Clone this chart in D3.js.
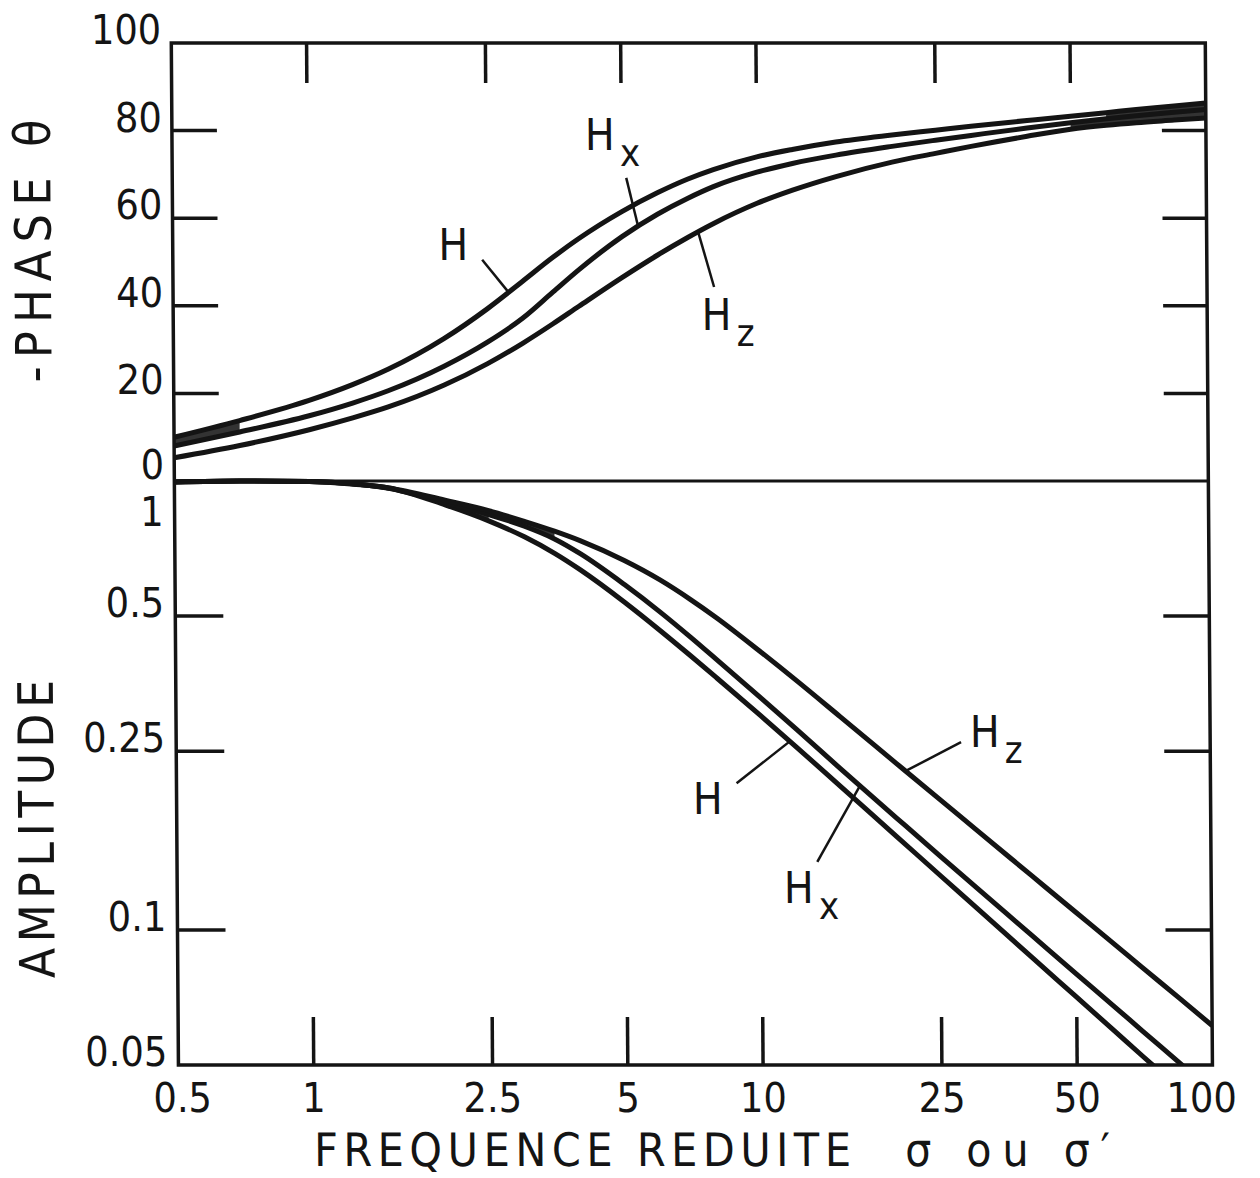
<!DOCTYPE html>
<html>
<head>
<meta charset="utf-8">
<script src="https://d3js.org/d3.v7.min.js"></script>
<style>
  body { margin: 0; background: #fff; }
  svg { display: block; }
  text { font-family: "DejaVu Sans Condensed", "DejaVu Sans", sans-serif; font-stretch: condensed; fill: #141414; }
</style>
</head>
<body>
<svg id="frame"></svg>

<script>
  // reduced frequency, shared by all the curves
  var sigma = [0.5, 0.7, 1, 1.25, 1.5, 2, 2.5, 3, 3.5, 4, 5, 6, 7, 8, 10, 12, 15, 20, 25, 30, 40, 50, 60, 70, 85, 100];

  // -phase (degrees)
  var phaseH  = [10.0, 13.8, 18.4, 22.0, 25.5, 32.5, 39.3, 45.6, 51.0, 55.3, 61.5, 65.8, 68.9, 71.1, 74.0, 75.7, 77.4, 79.0, 80.1, 81.0, 82.3, 83.3, 84.1, 84.8, 85.6, 86.3];
  var phaseHx = [8.0, 11.2, 14.9, 17.8, 20.6, 26.2, 31.7, 37.2, 43.1, 48.2, 55.8, 60.9, 64.5, 67.2, 70.5, 72.5, 74.4, 76.4, 77.8, 78.9, 80.6, 81.8, 82.7, 83.4, 84.2, 84.8];
  var phaseHz = [5.3, 8.1, 11.7, 14.4, 16.9, 21.9, 26.8, 31.5, 35.9, 39.9, 46.5, 51.6, 55.6, 58.8, 63.4, 66.4, 69.5, 72.8, 74.8, 76.4, 78.7, 80.3, 81.2, 81.8, 82.4, 82.9];

  // amplitude (last values of H and Hx lie just under the frame and are clipped)
  var ampH  = [0.995, 1.0, 0.998, 0.984, 0.965, 0.885, 0.815, 0.751, 0.690, 0.633, 0.537, 0.464, 0.408, 0.364, 0.300, 0.2555, 0.209, 0.1614, 0.132, 0.1121, 0.0865, 0.0708, 0.0601, 0.0523, 0.044, null];
  var ampHx = [0.995, 1.0, 0.998, 0.9865, 0.963, 0.896, 0.842, 0.793, 0.743, 0.688, 0.588, 0.5105, 0.449, 0.400, 0.329, 0.280, 0.229, 0.1775, 0.1458, 0.1244, 0.0968, 0.0797, 0.0681, 0.0595, 0.0503, 0.0436];
  var ampHz = [0.995, 1.0, 0.998, 0.9865, 0.965, 0.906, 0.859, 0.813, 0.773, 0.7355, 0.665, 0.602, 0.545, 0.496, 0.417, 0.360, 0.299, 0.235, 0.195, 0.1675, 0.1317, 0.1093, 0.0939, 0.0825, 0.0702, 0.0612];

  var xTicks = [1, 2.5, 5, 10, 25, 50];
  var xLabels = [0.5, 1, 2.5, 5, 10, 25, 50, 100];
  var phaseTicks = [20, 40, 60, 80];
  var phaseLabels = [0, 20, 40, 60, 80, 100];
  var ampTicks = [0.5, 0.25, 0.1];
  var ampLabels = [1, 0.5, 0.25, 0.1, 0.05];

  // places where the ink of two curves runs together: [upper, lower, from sigma, to sigma]
  var phaseInk = [[phaseH, phaseHx, 0.5, 0.7], [phaseHx, phaseHz, 50, 100], [phaseH, phaseHx, 60, 100]];
  var ampInk = [[ampHx, ampH, 1, 2.5], [ampHz, ampHx, 1, 3.5]];

  // curve names with their leader lines, in data units
  var phaseNotes = [
    {name: 'H', sub: '',  text: [1.95, 50.5],  from: [2.44, 50.5], to: [2.78, 43.3]},
    {name: 'H', sub: 'x', text: [4.15, 75.6],  from: [5.12, 69.2], to: [5.43, 58.2]},
    {name: 'H', sub: 'z', text: [7.5, 34.5],   from: [8.0, 44.3],  to: [7.38, 57.0]}
  ];
  var ampNotes = [
    {name: 'H', sub: 'z', text: [29.2, 0.2557], from: [27.9, 0.262],  to: [20.9, 0.2254]},
    {name: 'H', sub: '',  text: [7.05, 0.1813], from: [8.82, 0.2122], to: [11.6, 0.263]},
    {name: 'H', sub: 'x', text: [11.2, 0.1148], from: [13.3, 0.1417], to: [16.6, 0.2096]}
  ];

  var width = 1260, height = 1178;
  var svg = d3.select('#frame').attr('width', width).attr('height', height);
  svg.append('rect').attr('width', width).attr('height', height).attr('fill', '#fff');

  var x = d3.scaleLog().domain([0.5, 100]).range([171, 1205]);
  var yPhase = d3.scaleLinear().domain([0, 100]).range([481, 43]);
  var yAmp = d3.scaleLog().domain([0.05, 1]).range([1065, 481]);

  // the amplitude curves stop at the bottom of the frame
  svg.append('defs').append('clipPath').attr('id', 'ampClip')
    .append('rect')
    .attr('x', x(0.5)).attr('y', yAmp(1) - 10)
    .attr('width', x(100) - x(0.5))
    .attr('height', yAmp(0.05) - yAmp(1) + 10);

  // the scan is slightly sheared, so the whole drawing leans a little
  var g = svg.append('g').attr('transform', 'skewX(0.4)');

  var ink = '#141414';

  //dark fills where curves touch
  function drawInk(list, y, layer) {
    list.forEach(function(f) {
      var pts = [];
      sigma.forEach(function(s, i) {
        if (s >= f[2] && s <= f[3] && f[0][i] != null && f[1][i] != null) pts.push([s, f[0][i], f[1][i]]);
      });
      var area = d3.area()
        .x(function(d) { return x(d[0]); })
        .y0(function(d) { return y(d[1]); })
        .y1(function(d) { return y(d[2]); })
        .curve(d3.curveMonotoneX);
      layer.append('path').attr('d', area(pts)).attr('fill', '#333');
    });
  }

  function drawCurves(list, y, layer) {
    var line = d3.line()
      .defined(function(d) { return d[1] != null; })
      .x(function(d) { return x(d[0]); })
      .y(function(d) { return y(d[1]); })
      .curve(d3.curveMonotoneX);
    list.forEach(function(vals) {
      var pts = sigma.map(function(s, i) { return [s, vals[i]]; });
      layer.append('path')
        .attr('d', line(pts))
        .attr('fill', 'none')
        .attr('stroke', ink)
        .attr('stroke-width', 5);
    });
  }

  function drawNotes(list, y) {
    list.forEach(function(n) {
      g.append('line')
        .attr('x1', x(n.from[0])).attr('y1', y(n.from[1]))
        .attr('x2', x(n.to[0])).attr('y2', y(n.to[1]))
        .attr('stroke', ink)
        .attr('stroke-width', 2.5);
      var t = g.append('text')
        .attr('x', x(n.text[0]))
        .attr('y', y(n.text[1]))
        .style('font-size', '44px')
        .text(n.name);
      if (n.sub) {
        t.append('tspan').attr('dx', 5).attr('dy', 16).style('font-size', '38px').text(n.sub);
      }
    });
  }

  var phaseLayer = g.append('g');
  var ampLayer = g.append('g').attr('clip-path', 'url(#ampClip)');

  drawInk(phaseInk, yPhase, phaseLayer);
  drawInk(ampInk, yAmp, ampLayer);
  drawCurves([phaseH, phaseHx, phaseHz], yPhase, phaseLayer);
  drawCurves([ampH, ampHx, ampHz], yAmp, ampLayer);

  // frame and the line between the two panels
  g.append('rect')
    .attr('x', x(0.5)).attr('y', yPhase(100))
    .attr('width', x(100) - x(0.5))
    .attr('height', yAmp(0.05) - yPhase(100))
    .attr('fill', 'none').attr('stroke', ink).attr('stroke-width', 3.5);
  g.append('line')
    .attr('x1', x(0.5)).attr('x2', x(100))
    .attr('y1', yPhase(0)).attr('y2', yPhase(0))
    .attr('stroke', ink).attr('stroke-width', 3);

  // ticks
  var ticks = g.append('g').attr('stroke', ink).attr('stroke-width', 3.5);
  xTicks.forEach(function(d) {
    ticks.append('line').attr('x1', x(d)).attr('x2', x(d)).attr('y1', yPhase(100)).attr('y2', yPhase(100) + 40);
    ticks.append('line').attr('x1', x(d)).attr('x2', x(d)).attr('y1', yAmp(0.05)).attr('y2', yAmp(0.05) - 48);
  });
  phaseTicks.forEach(function(d) {
    ticks.append('line').attr('x1', x(0.5)).attr('x2', x(0.5) + 45).attr('y1', yPhase(d)).attr('y2', yPhase(d));
    ticks.append('line').attr('x1', x(100) - 44).attr('x2', x(100)).attr('y1', yPhase(d)).attr('y2', yPhase(d));
  });
  ampTicks.forEach(function(d) {
    ticks.append('line').attr('x1', x(0.5)).attr('x2', x(0.5) + 48).attr('y1', yAmp(d)).attr('y2', yAmp(d));
    ticks.append('line').attr('x1', x(100) - 46).attr('x2', x(100)).attr('y1', yAmp(d)).attr('y2', yAmp(d));
  });

  // tick labels
  g.selectAll('.plab')
    .data(phaseLabels)
    .enter().append('text')
    .attr('x', x(0.5) - 10)
    .attr('y', function(d) { return d == 0 ? yPhase(d) - 2 : yPhase(d) + 1; })
    .attr('text-anchor', 'end')
    .style('font-size', '41px')
    .text(function(d) { return d; });

  g.selectAll('.alab')
    .data(ampLabels)
    .enter().append('text')
    .attr('x', x(0.5) - 11)
    .attr('y', function(d) { return d == 1 ? yAmp(d) + 45 : yAmp(d) + 1; })
    .attr('text-anchor', 'end')
    .style('font-size', '41px')
    .text(function(d) { return d; });

  g.selectAll('.xlab')
    .data(xLabels)
    .enter().append('text')
    .attr('x', function(d) { return x(d) + (d == 100 ? -11 : d == 0.5 ? 4 : 0); })
    .attr('y', 1112)
    .attr('text-anchor', 'middle')
    .style('font-size', '41px')
    .text(function(d) { return d; });

  // axis titles
  g.append('text')
    .attr('x', 306).attr('y', 1166)
    .attr('textLength', 537).attr('lengthAdjust', 'spacing')
    .style('font-size', '46px')
    .text('FREQUENCE REDUITE');
  g.append('text')
    .attr('x', 897).attr('y', 1166)
    .attr('textLength', 205).attr('lengthAdjust', 'spacing')
    .style('font-size', '46px')
    .text('σ ou σ′');

  g.append('text')
    .attr('transform', 'translate(49,251) rotate(-90)')
    .attr('text-anchor', 'middle')
    .attr('textLength', 263).attr('lengthAdjust', 'spacing')
    .style('font-size', '50px')
    .text('-PHASE θ');
  g.append('text')
    .attr('transform', 'translate(48,829) rotate(-90)')
    .attr('text-anchor', 'middle')
    .attr('textLength', 298).attr('lengthAdjust', 'spacing')
    .style('font-size', '49px')
    .text('AMPLITUDE');

  drawNotes(phaseNotes, yPhase);
  drawNotes(ampNotes, yAmp);
</script>
</body>
</html>
